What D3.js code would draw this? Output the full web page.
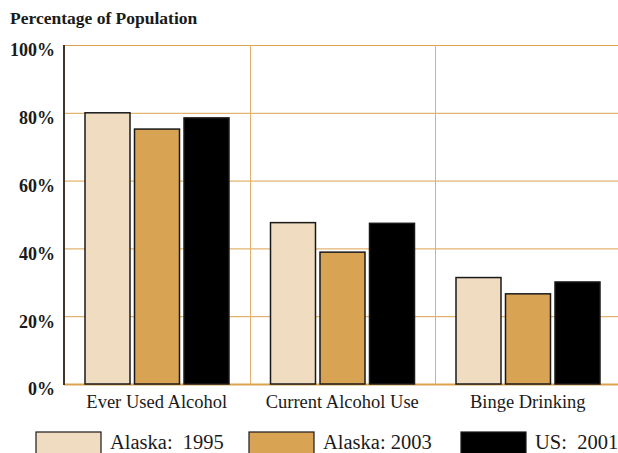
<!DOCTYPE html>
<html><head><meta charset="utf-8">
<script src="https://cdn.jsdelivr.net/npm/d3@7"></script>
<style>body{margin:0;background:#fff;} svg{display:block;font-family:"Liberation Serif","Times New Roman",serif;}</style>
</head><body><div id="chart"></div>
<script>
const categories = ["Ever Used Alcohol", "Current Alcohol Use", "Binge Drinking"];
const seriesNames = ["Alaska:  1995", "Alaska: 2003", "US:  2001"];
const alaska1995 = [80, 47.6, 31.4];
const alaska2003 = [75.2, 38.9, 26.6];
const us2001 = [78.5, 47.4, 30.1];
const yTicks = [0, 20, 40, 60, 80, 100];
const colors = ["#f0dcc0", "#d8a352", "#000000"];

(function () {
const W = 618, H = 453;
const svg = d3.select("#chart").append("svg").attr("width", W).attr("height", H);
const pL = 64, pR = 620.5, pT = 45, pB = 384;

const y = d3.scaleLinear().domain([0, 100]).range([pB, pT]);
const x0 = d3.scaleBand().domain(categories).range([pL, pR]).padding(0);
const x1 = d3.scaleBand().domain(seriesNames).range([21, 165]).paddingInner(0.091).paddingOuter(0);

const seriesData = [alaska1995, alaska2003, us2001];

svg.append("text").attr("x", 10).attr("y", 24).attr("font-size", 17.5).attr("font-weight", "bold")
  .attr("fill", "#1a1a1a").text("Percentage of Population");

svg.append("g").selectAll("line").data(yTicks).join("line")
  .attr("x1", pL).attr("x2", W).attr("y1", d => y(d) + 0.5).attr("y2", d => y(d) + 0.5)
  .attr("stroke", "#dca24e").attr("stroke-width", d => d === 0 ? 2 : 1);

svg.append("g").selectAll("line").data(categories.slice(1)).join("line")
  .attr("x1", d => Math.round(x0(d)) + 0.5).attr("x2", d => Math.round(x0(d)) + 0.5)
  .attr("y1", pT).attr("y2", pB).attr("stroke", "#e2b06a").attr("stroke-width", 1);

const yAxis = d3.axisLeft(y).tickValues(yTicks).tickFormat(d => d + "%").tickSize(0).tickPadding(9);
const ga = svg.append("g").attr("transform", `translate(${pL},0)`).call(yAxis);
ga.select(".domain").remove();
ga.selectAll("text").attr("font-size", 18).attr("font-weight", "bold").attr("fill", "#1a1a1a")
  .attr("font-family", "Liberation Serif, serif").attr("dy", "0.6em");
svg.append("line").attr("x1", pL).attr("x2", pL).attr("y1", pT).attr("y2", pB + 1)
  .attr("stroke", "#3d342a").attr("stroke-width", 2);

categories.forEach((c, ci) => {
  const g = svg.append("g").attr("transform", `translate(${x0(c)},0)`);
  g.selectAll("rect").data(seriesNames.map((s, si) => ({ s, si, v: seriesData[si][ci] }))).join("rect")
    .attr("x", d => x1(d.s)).attr("width", x1.bandwidth())
    .attr("y", d => y(d.v)).attr("height", d => pB - y(d.v))
    .attr("fill", d => colors[d.si]).attr("stroke", "#1a1a1a").attr("stroke-width", 1.5);
});

const xAxis = d3.axisBottom(x0).tickSize(0).tickPadding(11);
const gx = svg.append("g").attr("transform", `translate(0,${pB})`).call(xAxis);
gx.select(".domain").remove();
gx.selectAll("text").attr("font-size", 18.5).attr("fill", "#1a1a1a").attr("font-family", "Liberation Serif, serif");

const legX = [36, 249, 461];
const lg = svg.append("g").selectAll("g").data(seriesNames).join("g")
  .attr("transform", (d, i) => `translate(${legX[i]},432)`);
lg.append("rect").attr("width", 65).attr("height", 24).attr("fill", (d, i) => colors[i])
  .attr("stroke", "#1a1a1a").attr("stroke-width", 1.2);
lg.append("text").attr("x", 74).attr("y", 17).attr("font-size", 20.5).attr("fill", "#1a1a1a")
  .attr("xml:space", "preserve").style("white-space", "pre").text(d => d);
})();
</script></body></html>
